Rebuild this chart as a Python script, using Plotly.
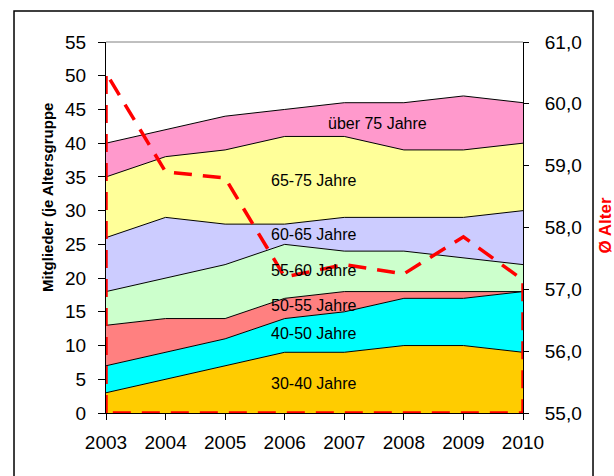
import plotly.graph_objects as go

# ---- data ----
years = [2003, 2004, 2005, 2006, 2007, 2008, 2009, 2010]
groups = ["30-40 Jahre", "40-50 Jahre", "50-55 Jahre", "55-60 Jahre",
          "60-65 Jahre", "65-75 Jahre", "über 75 Jahre"]
g30_40 = [3, 5, 7, 9, 9, 10, 10, 9]
g40_50 = [4, 4, 4, 5, 6, 7, 7, 9]
g50_55 = [6, 5, 3, 3, 3, 1, 1, 0]
g55_60 = [5, 6, 8, 8, 6, 6, 5, 4]
g60_65 = [8, 9, 6, 3, 5, 5, 6, 8]
g65_75 = [9, 9, 11, 13, 12, 10, 10, 10]
g75_up = [5, 4, 5, 4, 5, 7, 8, 6]
avg_age = [60.5, 58.9, 58.8, 57.2, 57.4, 57.25, 57.85, 57.15]

left_ticks = list(range(0, 56, 5))
right_ticks = [55, 56, 57, 58, 59, 60, 61]
right_ticktext = ["55,0", "56,0", "57,0", "58,0", "59,0", "60,0", "61,0"]
AGE_MIN, AGE_MAX = 55, 61

series = [g30_40, g40_50, g50_55, g55_60, g60_65, g65_75, g75_up]
colors = ["#FFCC00", "#00FFFF", "#FF8080", "#CCFFCC", "#CCCCFF", "#FFFF99", "#FF99CC"]

FONT = "Liberation Sans, Arial, sans-serif"

fig = go.Figure()
for name, vals, col in zip(groups, series, colors):
    fig.add_trace(go.Scatter(
        x=years, y=vals, name=name, stackgroup="one", mode="lines",
        line=dict(color="black", width=1), fillcolor=col,
        hoverinfo="x+y+name"))

# average age drawn as an outlined (unfilled) area down to the axis minimum
fig.add_trace(go.Scatter(
    x=[years[0]] + years + [years[-1], years[0]],
    y=[AGE_MIN] + avg_age + [AGE_MIN, AGE_MIN],
    yaxis="y2", mode="lines", name="Ø Alter",
    line=dict(color="#FF0000", width=3.5, dash="18px,11px")))

# in-chart labels
label_pos = {
    "über 75 Jahre": (2007.56, 42.9),
    "65-75 Jahre": (2006.49, 34.5),
    "60-65 Jahre": (2006.49, 26.5),
    "55-60 Jahre": (2006.49, 21.2),
    "50-55 Jahre": (2006.49, 16.0),
    "40-50 Jahre": (2006.49, 11.8),
    "30-40 Jahre": (2006.49, 4.4),
}
annotations = []
for name in groups:
    x, y = label_pos[name]
    annotations.append(dict(x=x, y=y, xref="x", yref="y", text=name,
                            showarrow=False, font=dict(size=16, color="black", family=FONT)))

annotations.append(dict(x=-0.1415, y=0.582, xref="paper", yref="paper",
                        xanchor="center", yanchor="middle",
                        text="<b>Mitglieder (je Altersgruppe</b>", textangle=-90,
                        showarrow=False, font=dict(size=15, color="black", family=FONT)))
annotations.append(dict(x=1.1955, y=0.504, xref="paper", yref="paper",
                        xanchor="center", yanchor="middle",
                        text="<b>Ø Alter</b>", textangle=-90,
                        showarrow=False, font=dict(size=17, color="#FF0000", family=FONT)))

fig.update_layout(
    width=614, height=476,
    margin=dict(l=106, r=91, t=42, b=63),
    paper_bgcolor="white", plot_bgcolor="white",
    showlegend=False,
    font=dict(family=FONT, size=19, color="black"),
    xaxis=dict(range=[years[0], years[-1]], tickvals=years, ticks="outside",
               ticklen=6, tickcolor="black", showline=True, linecolor="black",
               linewidth=1, showgrid=False, zeroline=False,
               tickfont=dict(size=19), ticklabelstandoff=6),
    yaxis=dict(range=[0, 55], tickvals=left_ticks, ticks="outside", ticklen=7,
               tickcolor="black", showline=True, linecolor="black", linewidth=1,
               showgrid=False, zeroline=False, tickfont=dict(size=19),
               ticklabelstandoff=8),
    yaxis2=dict(range=[AGE_MIN, AGE_MAX], overlaying="y", side="right",
                tickvals=right_ticks, ticktext=right_ticktext, ticks="outside",
                ticklen=5, tickcolor="black", showline=True, linecolor="black",
                linewidth=1, showgrid=False, zeroline=False,
                tickfont=dict(size=19), ticklabelstandoff=12),
    annotations=annotations,
    shapes=[
        dict(type="line", xref="paper", yref="paper", x0=0, x1=1, y0=1, y1=1,
             line=dict(color="#808080", width=1)),
        dict(type="rect", xref="paper", yref="paper", x0=-0.2206, x1=1.1679,
             y0=-0.3, y1=1.0836, line=dict(color="black", width=1.5),
             fillcolor="rgba(0,0,0,0)", layer="below"),
    ],
)

fig.write_html("out.html", config={"displayModeBar": False},
               post_script="document.body.style.margin='0';document.body.style.overflow='hidden';")
